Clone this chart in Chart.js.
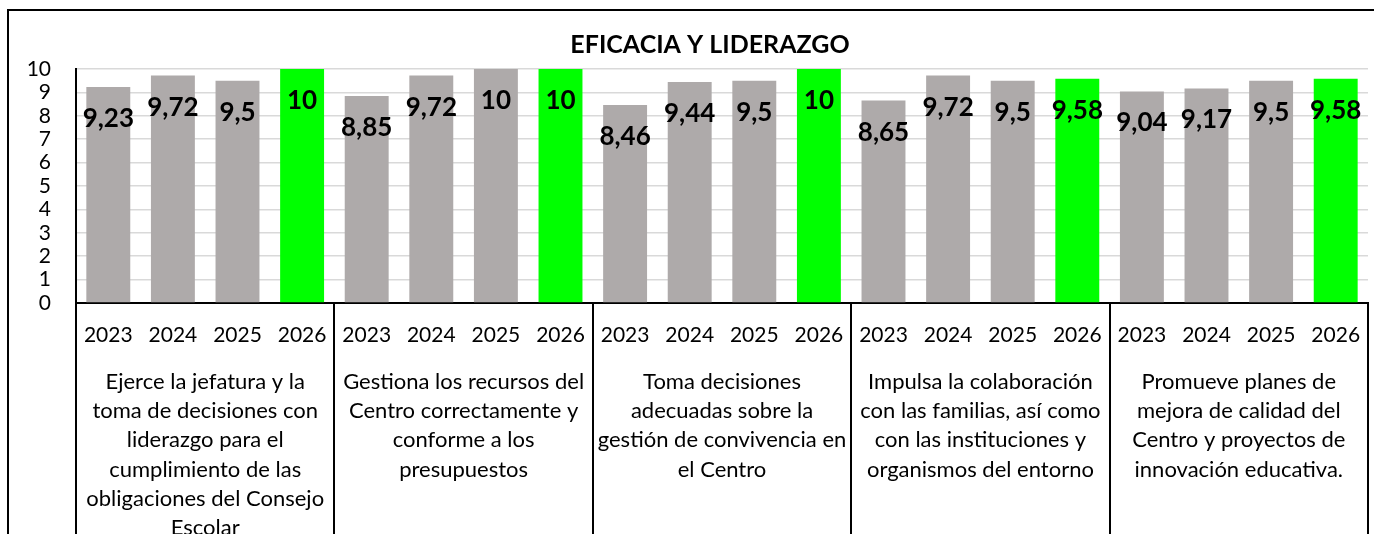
<!DOCTYPE html>
<html>
<head>
<meta charset="utf-8">
<script src="https://cdn.jsdelivr.net/npm/chart.js@4.4.1/dist/chart.umd.min.js"></script>
<style>
  html, body { margin: 0; padding: 0; background: #fff; }
  canvas { display: block; }
</style>
</head>
<body>
<canvas id="chart" width="1374" height="534"></canvas>
<script>
const title = 'EFICACIA Y LIDERAZGO';

// years repeated inside each group
const years = ['2023', '2024', '2025', '2026'];

// group labels, already broken into lines as in the original
const groupLabels = [
  ['Ejerce la jefatura y la', 'toma de decisiones con', 'liderazgo para el', 'cumplimiento de las', 'obligaciones del Consejo', 'Escolar'],
  ['Gestiona los recursos del', 'Centro correctamente y', 'conforme a los', 'presupuestos'],
  ['Toma decisiones', 'adecuadas sobre la', 'gestión de convivencia en', 'el Centro'],
  ['Impulsa la colaboración', 'con las familias, así como', 'con las instituciones y', 'organismos del entorno'],
  ['Promueve planes de', 'mejora de calidad del', 'Centro y proyectos de', 'innovación educativa.']
];

// one value per year, per group
const group1 = [9.23, 9.72, 9.5, 10];
const group2 = [8.85, 9.72, 10, 10];
const group3 = [8.46, 9.44, 9.5, 10];
const group4 = [8.65, 9.72, 9.5, 9.58];
const group5 = [9.04, 9.17, 9.5, 9.58];

const yTicks = [0, 1, 2, 3, 4, 5, 6, 7, 8, 9, 10];

const GRAY = '#aeaaaa';
const GREEN = '#00ff00';
const FONT = 'Lato, "Open Sans", sans-serif';

const groups = [group1, group2, group3, group4, group5];
const labels = [];
const values = [];
groups.forEach(g => {
  g.forEach((v, i) => {
    labels.push(years[i]);
    values.push(v);
  });
});
const colors = labels.map(y => y === '2026' ? GREEN : GRAY);

// outer frame of the chart object (cut off at right and bottom) + title
const framePlugin = {
  id: 'frame',
  beforeDraw(chart) {
    const ctx = chart.ctx;
    ctx.save();
    ctx.fillStyle = '#fff';
    ctx.fillRect(0, 0, chart.width, chart.height);
    ctx.strokeStyle = '#000';
    ctx.lineWidth = 2;
    ctx.strokeRect(8, 10, chart.width + 20, chart.height + 20);
    // the frame runs past the right edge, so the title sits right of the canvas centre
    ctx.font = 'bold 25px ' + FONT;
    ctx.fillStyle = '#000';
    ctx.textAlign = 'center';
    ctx.textBaseline = 'middle';
    ctx.fillText(title, 710, 45);
    ctx.restore();
  }
};

// value labels near the top of each bar
const valueLabelPlugin = {
  id: 'valueLabels',
  afterDatasetsDraw(chart) {
    const ctx = chart.ctx;
    const meta = chart.getDatasetMeta(0);
    ctx.save();
    ctx.font = 'bold 26px ' + FONT;
    ctx.fillStyle = '#000';
    ctx.textAlign = 'center';
    ctx.textBaseline = 'alphabetic';
    meta.data.forEach((bar, i) => {
      const txt = String(values[i]).replace('.', ',');
      ctx.fillText(txt, bar.x, bar.y + 40);
    });
    ctx.restore();
  }
};

// group separators and multi-line group labels under the years
const groupAxisPlugin = {
  id: 'groupAxis',
  afterDraw(chart) {
    const ctx = chart.ctx;
    const x = chart.scales.x;
    const area = chart.chartArea;
    const step = x.getPixelForValue(1) - x.getPixelForValue(0);
    ctx.save();
    ctx.strokeStyle = '#000';
    ctx.lineWidth = 2;
    for (let g = 0; g <= groups.length; g++) {
      const px = Math.round(x.getPixelForValue(g * years.length) - step / 2);
      ctx.beginPath();
      ctx.moveTo(px, area.bottom);
      ctx.lineTo(px, chart.height);
      ctx.stroke();
    }
    ctx.font = '22px ' + FONT;
    ctx.fillStyle = '#000';
    ctx.textAlign = 'center';
    ctx.textBaseline = 'middle';
    groupLabels.forEach((lines, g) => {
      const first = x.getPixelForValue(g * years.length);
      const last = x.getPixelForValue(g * years.length + years.length - 1);
      const cx = (first + last) / 2;
      lines.forEach((line, k) => {
        ctx.fillText(line, cx, 382 + k * 29.2);
      });
    });
    ctx.restore();
  }
};

new Chart(document.getElementById('chart'), {
  type: 'bar',
  data: {
    labels: labels,
    datasets: [{
      data: values,
      backgroundColor: colors,
      borderWidth: 0,
      barPercentage: 0.68,
      categoryPercentage: 1
    }]
  },
  options: {
    responsive: false,
    animation: false,
    layout: { padding: { left: 0, right: 6, top: 69, bottom: 0 } },
    plugins: {
      legend: { display: false },
      tooltip: { enabled: false },
      title: { display: false }
    },
    scales: {
      x: {
        grid: { display: false, drawTicks: false },
        border: { display: true, color: '#000', width: 2 },
        ticks: {
          color: '#000',
          font: { family: FONT, size: 21 },
          padding: 20,
          maxRotation: 0,
          autoSkip: false
        },
        afterFit(scale) {
          scale.height = 231;
          scale.paddingLeft = 0;
          scale.paddingRight = 0;
        }
      },
      y: {
        min: yTicks[0],
        max: yTicks[yTicks.length - 1],
        grid: { color: '#d9d9d9', lineWidth: 1.5, drawTicks: false },
        border: { display: true, color: '#000', width: 2 },
        ticks: {
          stepSize: 1,
          autoSkip: false,
          color: '#000',
          font: { family: FONT, size: 21 },
          padding: 25
        },
        afterBuildTicks(scale) { scale.ticks = yTicks.map(v => ({ value: v })); },
        afterFit(scale) { scale.width = 76; }
      }
    }
  },
  plugins: [framePlugin, valueLabelPlugin, groupAxisPlugin]
});
</script>
</body>
</html>
